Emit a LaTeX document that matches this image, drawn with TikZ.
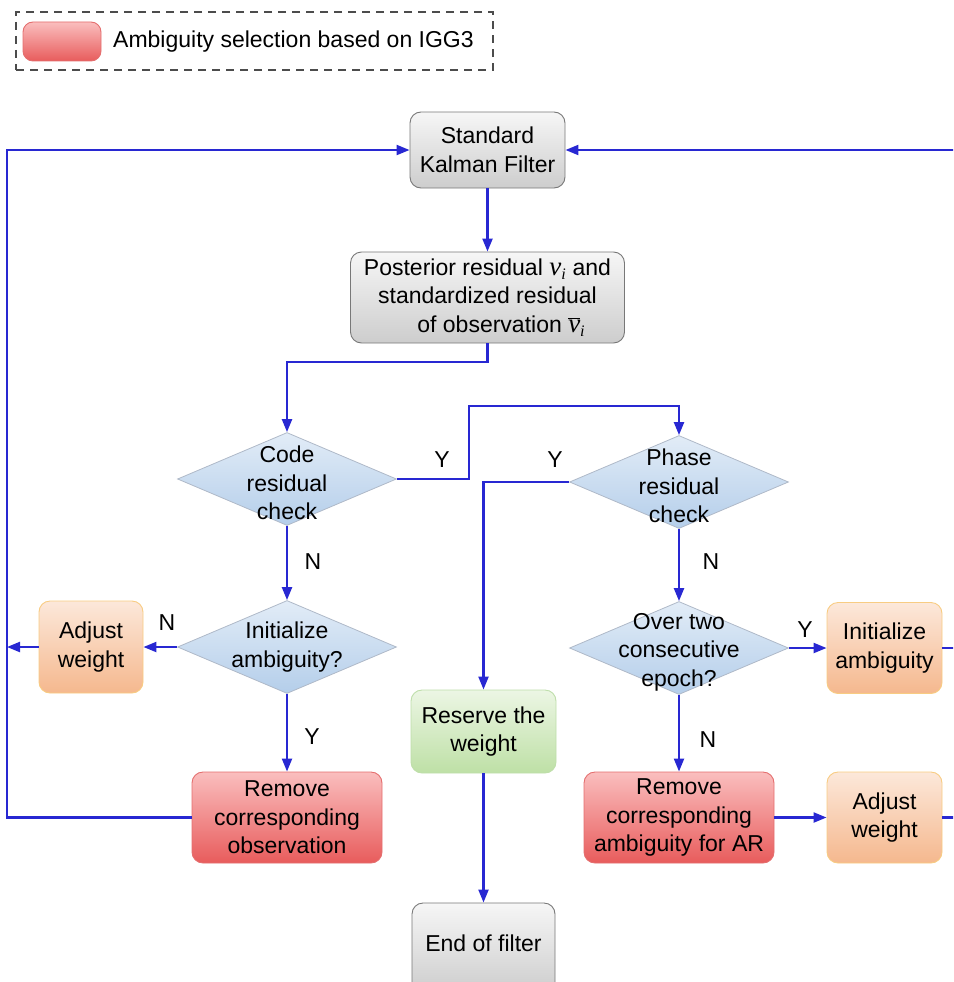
\documentclass[tikz,border=0pt]{standalone}
\usepackage{fontspec}
\setmainfont{Liberation Sans}
\newfontfamily\serifv{Liberation Serif}
\usetikzlibrary{shapes.geometric,arrows.meta}
\definecolor{flow}{RGB}{40,40,210}
\definecolor{grayT}{RGB}{246,246,246}
\definecolor{grayB}{RGB}{205,205,205}
\definecolor{grayD}{RGB}{120,120,120}
\definecolor{blueT}{RGB}{226,236,247}
\definecolor{blueB}{RGB}{180,206,234}
\definecolor{blueD}{RGB}{175,185,200}
\definecolor{orT}{RGB}{252,232,218}
\definecolor{orB}{RGB}{245,184,142}
\definecolor{orD}{RGB}{248,204,130}
\definecolor{redT}{RGB}{250,190,190}
\definecolor{redB}{RGB}{232,92,92}
\definecolor{redD}{RGB}{228,110,110}
\definecolor{grT}{RGB}{236,246,228}
\definecolor{grB}{RGB}{190,224,166}
\definecolor{grD}{RGB}{190,222,170}
\newcommand{\vvar}{{\serifv\itshape\fontsize{27}{28}\selectfont v}\textsubscript{\serifv\itshape i}}
\newcommand{\vbar}{{\serifv\itshape\fontsize{27}{28}\selectfont $\overline{\mbox{v}}$}\textsubscript{\serifv\itshape i}}
\begin{document}
\begin{tikzpicture}[x=1pt,y=-1pt,
  txt/.style={font=\fontsize{23}{28.5}\selectfont, align=center, inner sep=0pt},
  box/.style={txt, rectangle, rounded corners=11pt, line width=0.9pt},
  graybox/.style={box, draw=grayD, top color=grayT, bottom color=grayB},
  orbox/.style={box, draw=orD, top color=orT, bottom color=orB},
  redbox/.style={box, draw=redD, top color=redT, bottom color=redB},
  grbox/.style={box, draw=grD, top color=grT, bottom color=grB},
  dia/.style={diamond, inner sep=0pt, minimum width=219pt, minimum height=93pt, draw=blueD, line width=0.8pt, top color=blueT, bottom color=blueB},
  flowline/.style={draw=flow, line width=2.2pt},
  arr/.style={flowline, -{Triangle[length=13pt,width=10pt]}},
  lab/.style={txt}
]
\useasboundingbox (0,0) rectangle (953,982);
\clip (0,0) rectangle (953,982);

% legend
\node[draw=black!70, dashed, dash pattern=on 8pt off 6pt, line width=1.3pt, minimum width=477pt, minimum height=58pt, inner sep=0pt] (legend) at (254.5,41) {};
\node[box, draw=redD, top color=redT, bottom color=redB, minimum width=78pt, minimum height=39pt, rounded corners=10pt] (swatch) at (62,41.5) {};
\node[txt, anchor=west] (legtxt) at (113,42) {Ambiguity selection based on IGG3};

% nodes
\node[graybox, minimum width=155pt, minimum height=76pt] (kf) at (487.5,150) {Standard\\Kalman Filter};
\node[graybox, minimum width=274pt, minimum height=91pt] (post) at (487.5,297.5) {Posterior residual \vvar{} and\\standardized residual\\\hspace*{1.2em}of observation \vbar};

\node[dia] (code) at (287,479) {};
\node[txt] (codet) at (287,483) {Code\\residual\\check};

\node[dia] (phase) at (679,482) {};
\node[txt] (phaset) at (679,486) {Phase\\residual\\check};

\node[dia] (init) at (287,647) {};
\node[txt] (initt) at (287,647) {Initialize\\ambiguity?};

\node[dia] (over) at (679,648) {};
\node[txt] (overt) at (679,652) {Over two\\consecutive\\epoch?};

\node[orbox, minimum width=104pt, minimum height=92pt] (adjL) at (91,647) {Adjust\\weight};
\node[orbox, minimum width=115pt, minimum height=91pt] (initR) at (884.5,648) {Initialize\\ambiguity};
\node[orbox, minimum width=115pt, minimum height=91pt] (adjR) at (884.5,817.5) {Adjust\\weight};

\node[redbox, minimum width=190pt, minimum height=91pt] (remobs) at (287,817.5) {Remove\\corresponding\\observation};
\node[redbox, minimum width=190pt, minimum height=91pt] (remar) at (679,817.5) {Remove\\corresponding\\ambiguity for AR};

\node[grbox, minimum width=145pt, minimum height=83pt] (res) at (483.5,731.5) {Reserve the\\weight};
\node[graybox, minimum width=143pt, minimum height=90pt] (end) at (483.5,948) {};
\node[txt] (endt) at (483.5,943) {End of filter};

% helper coordinates
\coordinate (lx1) at (7,817.5);
\coordinate (lx2) at (7,150);
\coordinate (lx3) at (7,647);
\coordinate (rx1) at (965,648);
\coordinate (rx2) at (965,817.5);
\coordinate (rx3) at (965,150);

% connectors
\draw[arr] (kf.south) -- (post.north);
\draw[arr] (post.south) |- (287,362) -- (code.north);
\draw[arr] (code.east) -- (469,479) -- (469,406) -| (phase.north);
\draw[arr] (phase.west) -| (res.north);
\draw[arr] (code.south) -- (init.north);
\draw[arr] (init.west) -- (adjL.east);
\draw[arr] (adjL.west) -- (lx3);
\draw[arr] (init.south) -- (remobs.north);
\draw[arr] (remobs.west) -- (lx1) -- (lx2) -- (kf.west);
\draw[arr] (phase.south) -- (over.north);
\draw[arr] (over.east) -- (initR.west);
\draw[arr] (over.south) -- (remar.north);
\draw[arr] (remar.east) -- (adjR.west);
\draw[arr] (res.south) -- (end.north);
\draw[flowline] (initR.east) -- (rx1);
\draw[arr] (adjR.east) -- (rx2) -- (rx3) -- (kf.east);

% labels
\node[lab] (y1) at (442,460) {Y};
\node[lab] (y2) at (555,460) {Y};
\node[lab] (n1) at (313,562) {N};
\node[lab] (n2) at (167,623) {N};
\node[lab] (y3) at (312,737) {Y};
\node[lab] (n3) at (711,562) {N};
\node[lab] (y4) at (805,630) {Y};
\node[lab] (n4) at (708,740) {N};
\end{tikzpicture}
\end{document}
